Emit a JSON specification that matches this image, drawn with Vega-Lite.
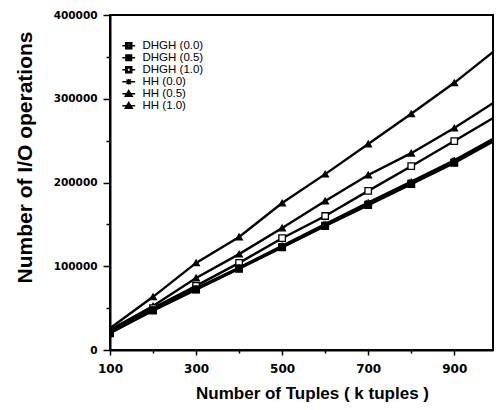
{
  "$schema": "https://vega.github.io/schema/vega-lite/v6.json",
  "autosize": "none",
  "width": 383,
  "height": 335,
  "padding": {"left": 110, "top": 15, "right": 3, "bottom": 60},
  "background": "white",
  "config": {
    "view": {"stroke": "black", "strokeWidth": 2},
    "axis": {"domainColor": "black", "domainWidth": 2, "tickColor": "black", "tickWidth": 1.5, "grid": false, "labelColor": "black", "titleColor": "black"}
  },
  "data": {
    "values": [
      {"series": "HH (1.0)", "x": 100, "y": 26000},
      {"series": "HH (1.0)", "x": 200, "y": 63500},
      {"series": "HH (1.0)", "x": 300, "y": 104000},
      {"series": "HH (1.0)", "x": 400, "y": 135000},
      {"series": "HH (1.0)", "x": 500, "y": 175500},
      {"series": "HH (1.0)", "x": 600, "y": 210000},
      {"series": "HH (1.0)", "x": 700, "y": 246000},
      {"series": "HH (1.0)", "x": 800, "y": 282000},
      {"series": "HH (1.0)", "x": 900, "y": 319000},
      {"series": "HH (1.0)", "x": 1000, "y": 360000},
      {"series": "HH (0.5)", "x": 100, "y": 24000},
      {"series": "HH (0.5)", "x": 200, "y": 52500},
      {"series": "HH (0.5)", "x": 300, "y": 86000},
      {"series": "HH (0.5)", "x": 400, "y": 114500},
      {"series": "HH (0.5)", "x": 500, "y": 145700},
      {"series": "HH (0.5)", "x": 600, "y": 178000},
      {"series": "HH (0.5)", "x": 700, "y": 209000},
      {"series": "HH (0.5)", "x": 800, "y": 235000},
      {"series": "HH (0.5)", "x": 900, "y": 265000},
      {"series": "HH (0.5)", "x": 1000, "y": 298000},
      {"series": "DHGH (1.0)", "x": 100, "y": 22000},
      {"series": "DHGH (1.0)", "x": 200, "y": 50000},
      {"series": "DHGH (1.0)", "x": 300, "y": 76500},
      {"series": "DHGH (1.0)", "x": 400, "y": 104000},
      {"series": "DHGH (1.0)", "x": 500, "y": 133500},
      {"series": "DHGH (1.0)", "x": 600, "y": 160000},
      {"series": "DHGH (1.0)", "x": 700, "y": 190000},
      {"series": "DHGH (1.0)", "x": 800, "y": 219500},
      {"series": "DHGH (1.0)", "x": 900, "y": 249500},
      {"series": "DHGH (1.0)", "x": 1000, "y": 280000},
      {"series": "DHGH (0.0)", "x": 100, "y": 20000},
      {"series": "DHGH (0.0)", "x": 200, "y": 47500},
      {"series": "DHGH (0.0)", "x": 300, "y": 72500},
      {"series": "DHGH (0.0)", "x": 400, "y": 97500},
      {"series": "DHGH (0.0)", "x": 500, "y": 123000},
      {"series": "DHGH (0.0)", "x": 600, "y": 148500},
      {"series": "DHGH (0.0)", "x": 700, "y": 173500},
      {"series": "DHGH (0.0)", "x": 800, "y": 198500},
      {"series": "DHGH (0.0)", "x": 900, "y": 224000},
      {"series": "DHGH (0.0)", "x": 1000, "y": 252500},
      {"series": "DHGH (0.5)", "x": 100, "y": 20500},
      {"series": "DHGH (0.5)", "x": 200, "y": 47000},
      {"series": "DHGH (0.5)", "x": 300, "y": 72000},
      {"series": "DHGH (0.5)", "x": 400, "y": 97000},
      {"series": "DHGH (0.5)", "x": 500, "y": 122500},
      {"series": "DHGH (0.5)", "x": 600, "y": 148000},
      {"series": "DHGH (0.5)", "x": 700, "y": 173000},
      {"series": "DHGH (0.5)", "x": 800, "y": 198000},
      {"series": "DHGH (0.5)", "x": 900, "y": 223500},
      {"series": "DHGH (0.5)", "x": 1000, "y": 251500},
      {"series": "HH (0.0)", "x": 100, "y": 21000},
      {"series": "HH (0.0)", "x": 200, "y": 48500},
      {"series": "HH (0.0)", "x": 300, "y": 73500},
      {"series": "HH (0.0)", "x": 400, "y": 98500},
      {"series": "HH (0.0)", "x": 500, "y": 124500},
      {"series": "HH (0.0)", "x": 600, "y": 150500},
      {"series": "HH (0.0)", "x": 700, "y": 176000},
      {"series": "HH (0.0)", "x": 800, "y": 201000},
      {"series": "HH (0.0)", "x": 900, "y": 226500},
      {"series": "HH (0.0)", "x": 1000, "y": 255000}
    ]
  },
  "encoding": {
    "x": {
      "field": "x", "type": "quantitative",
      "scale": {"domain": [100, 990], "nice": false, "zero": false},
      "axis": {
        "title": "Number of Tuples ( k tuples )",
        "values": [100, 200, 300, 400, 500, 600, 700, 800, 900],
        "format": "d",
        "labelExpr": "datum.value % 200 == 100 ? datum.label : ''",
        "tickSize": {"condition": {"test": "datum.value % 200 == 100", "value": 5}, "value": 3},
        "labelPadding": 8,
        "labelFont": "DejaVu Sans", "labelFontWeight": "bold", "labelFontSize": 12,
        "labelFlush": false,
        "titleFont": "Liberation Sans", "titleFontWeight": "bold", "titleFontSize": 17,
        "titleX": 202, "titleY": 48, "titleBaseline": "alphabetic", "titleAnchor": null
      }
    },
    "y": {
      "field": "y", "type": "quantitative",
      "scale": {"domain": [0, 400000], "nice": false},
      "axis": {
        "title": "Number of I/O operations",
        "values": [0, 50000, 100000, 150000, 200000, 250000, 300000, 350000, 400000],
        "format": "d",
        "labelExpr": "datum.value % 100000 == 0 ? datum.label : ''",
        "tickSize": {"condition": {"test": "datum.value % 100000 == 0", "value": 7}, "value": 4},
        "labelPadding": 6,
        "labelFont": "DejaVu Sans", "labelFontWeight": "bold", "labelFontSize": 10.5,
        "labelFlush": false,
        "titleFont": "Liberation Sans", "titleFontWeight": "bold", "titleFontSize": 21,
        "titleAngle": -90, "titleX": -79, "titleY": 142, "titleAlign": "center", "titleBaseline": "alphabetic", "titleAnchor": null
      }
    }
  },
  "resolve": {"scale": {"shape": "independent"}, "legend": {"shape": "independent"}},
  "layer": [
    {
      "mark": {"type": "line", "color": "black", "strokeWidth": 2.4, "clip": true},
      "encoding": {"detail": {"field": "series"}}
    },
    {
      "mark": {"type": "point", "stroke": "black", "strokeWidth": 1.3, "opacity": 1, "clip": true, "size": 42},
      "encoding": {
        "shape": {
          "field": "series", "type": "nominal",
          "scale": {
            "domain": ["DHGH (0.0)", "DHGH (0.5)", "DHGH (1.0)", "HH (0.0)", "HH (0.5)", "HH (1.0)"],
            "range": ["square", "square", "square", "M-1,0H1M0,-1V1M-0.7,-0.7L0.7,0.7M-0.7,0.7L0.7,-0.7", "triangle-up", "triangle-up"]
          },
          "legend": null
        },
        "fill": {
          "field": "series", "type": "nominal",
          "scale": {
            "domain": ["DHGH (0.0)", "DHGH (0.5)", "DHGH (1.0)", "HH (0.0)", "HH (0.5)", "HH (1.0)"],
            "range": ["#808080", "black", "white", "black", "black", "black"]
          },
          "legend": null
        }
      }
    },
    {
      "mark": {"type": "point", "stroke": "black", "strokeWidth": 1.5, "opacity": 0, "clip": true, "size": 64},
      "encoding": {
        "shape": {
          "field": "series", "type": "nominal",
          "scale": {
            "domain": ["DHGH (0.0)", "DHGH (0.5)", "DHGH (1.0)", "HH (0.0)", "HH (0.5)", "HH (1.0)"],
            "range": [
              "M-1.6,0H1.6M-0.75,-0.75H0.75V0.75H-0.75ZM-0.42,-0.42V0.42H0.42V-0.42Z",
              "M-1.6,0H-0.7M0.7,0H1.6M-0.7,-0.7H0.7V0.7H-0.7Z",
              "M-1.6,0H-0.75M0.75,0H1.6M-0.75,-0.75H0.75V0.75H-0.75ZM-0.42,-0.42V0.42H0.42V-0.42Z",
              "M-1.6,0H1.6M0,-0.7V0.7M-0.55,-0.55L0.55,0.55M-0.55,0.55L0.55,-0.55",
              "M-1.6,0H1.6M0,-0.8L0.85,0.6H-0.85Z",
              "M-1.6,0H1.6M0,-0.8L0.85,0.6H-0.85Z"
            ]
          },
          "legend": {
            "title": null,
            "orient": "none", "legendX": 13, "legendY": 25, "padding": 0,
            "symbolSize": 64, "labelOffset": 8, "rowPadding": -7,
            "symbolOpacity": 1,
            "labelFont": "Liberation Sans", "labelFontSize": 11.5, "labelColor": "black",
            "encode": {
              "symbols": {
                "stroke": {"value": "black"},
                "strokeWidth": {"value": 1.5},
                "strokeOpacity": {"value": 1},
                "fillOpacity": {"value": 1},
                "opacity": {"value": 1}
              }
            }
          }
        },
        "fill": {"field": "series", "type": "nominal", "legend": null}
      }
    }
  ]
}
